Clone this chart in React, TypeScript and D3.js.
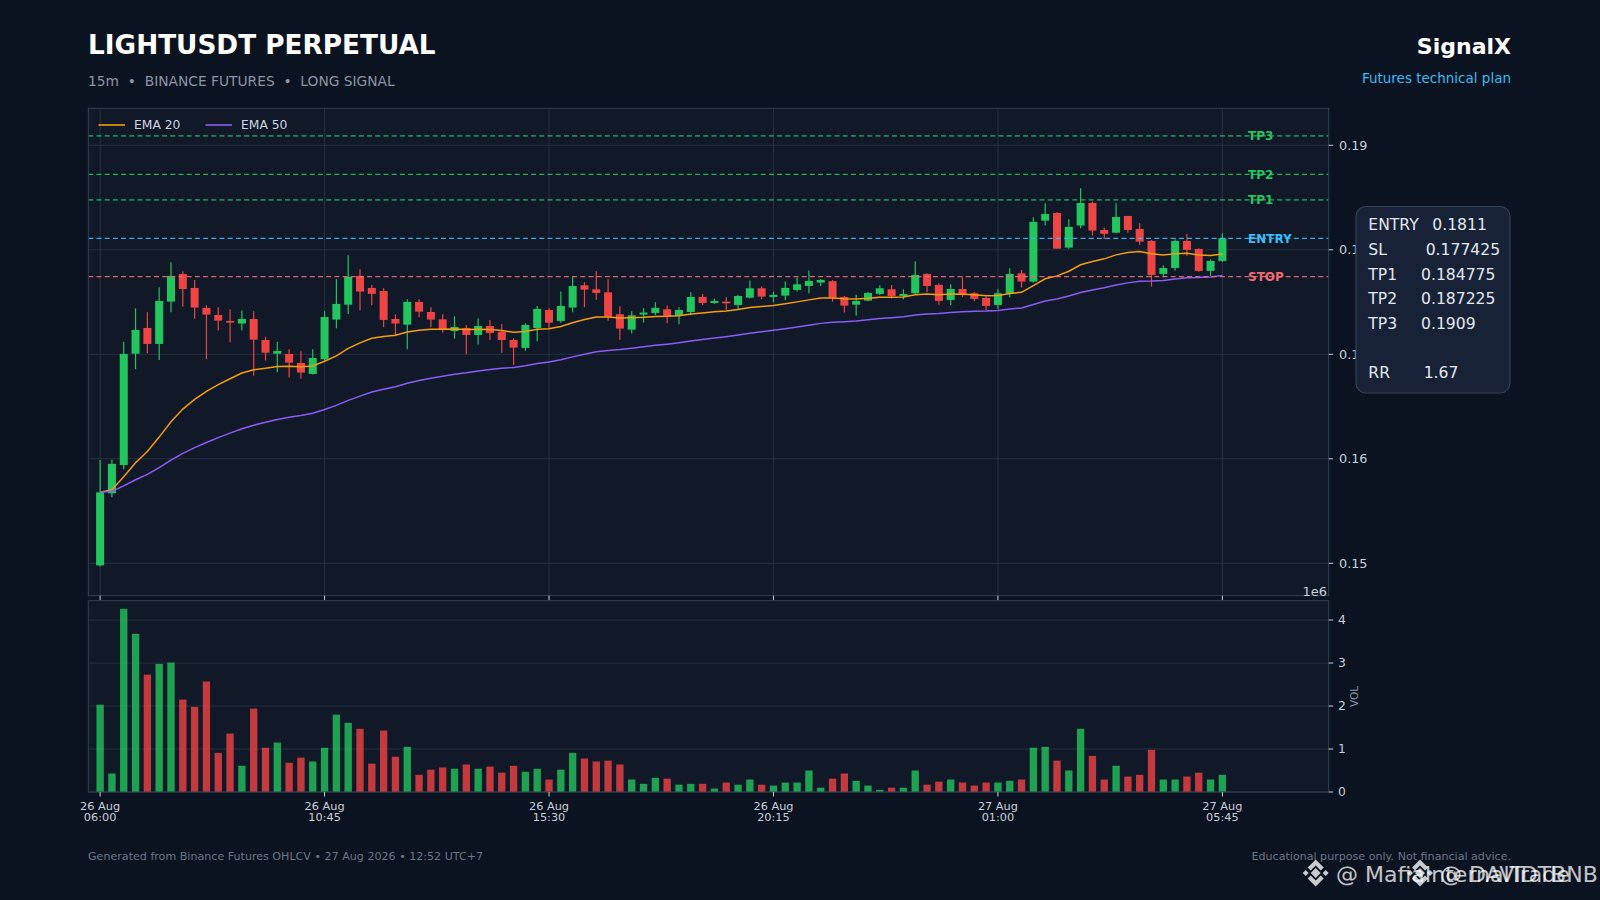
import React from "react";
import * as d3 from "d3";

// ---- data ----
const openP = [
  0.1498, 0.1567, 0.15941, 0.17006, 0.17252, 0.17099, 0.17504, 0.17769, 0.17635, 0.17444, 0.17376, 0.17319,
  0.17294, 0.17338, 0.17137, 0.17006, 0.17003, 0.16917, 0.16812, 0.16952, 0.17332, 0.17475, 0.1775, 0.17635,
  0.17606, 0.17338, 0.17284, 0.17501, 0.17405, 0.17335, 0.17223, 0.17252, 0.17185, 0.17271, 0.17214, 0.17137,
  0.17061, 0.17252, 0.17424, 0.17319, 0.17447, 0.1766, 0.17622, 0.17593, 0.17383, 0.17236, 0.1738, 0.17396,
  0.17431, 0.17367, 0.17405, 0.17549, 0.17491, 0.17504, 0.17472, 0.17542, 0.17632, 0.17549, 0.17562, 0.17616,
  0.17654, 0.17686, 0.17699, 0.17549, 0.17475, 0.17514, 0.17578, 0.17622, 0.17558, 0.17584, 0.17769, 0.17664,
  0.1752, 0.17625, 0.17584, 0.17539, 0.17472, 0.17584, 0.17775, 0.17696, 0.18279, 0.18353, 0.18021, 0.18232,
  0.18448, 0.1819, 0.18164, 0.18324, 0.182, 0.18085, 0.17769, 0.17826, 0.18085, 0.18008, 0.17798, 0.17893,
];
const highP = [
  0.15989, 0.1599, 0.17121, 0.1744, 0.17402, 0.17641, 0.17881, 0.17794, 0.17712, 0.17469, 0.1745, 0.17431,
  0.17418, 0.17412, 0.17169, 0.17121, 0.17048, 0.17029, 0.17048, 0.17412, 0.17721, 0.17948, 0.17814, 0.17664,
  0.17632, 0.17383, 0.17526, 0.17526, 0.1745, 0.17383, 0.17364, 0.17281, 0.17345, 0.17329, 0.1729, 0.17153,
  0.17297, 0.17463, 0.1744, 0.176, 0.17747, 0.17689, 0.17794, 0.17718, 0.1746, 0.17412, 0.1744, 0.17498,
  0.17469, 0.1745, 0.17593, 0.17578, 0.17533, 0.17546, 0.17568, 0.17705, 0.17648, 0.176, 0.17696, 0.17734,
  0.17801, 0.17718, 0.17712, 0.17558, 0.17571, 0.17597, 0.17661, 0.17664, 0.17622, 0.1789, 0.17775, 0.1768,
  0.1767, 0.17737, 0.17597, 0.17552, 0.17622, 0.17823, 0.17807, 0.18311, 0.18445, 0.18359, 0.18292, 0.18589,
  0.18461, 0.18212, 0.18445, 0.18324, 0.18254, 0.18094, 0.17852, 0.18101, 0.18152, 0.18015, 0.17909, 0.18158,
];
const lowP = [
  0.1497, 0.15632, 0.159, 0.16857, 0.1701, 0.16946, 0.17402, 0.17456, 0.17341, 0.16952, 0.17227, 0.17115,
  0.17227, 0.16796, 0.1694, 0.16828, 0.16777, 0.16767, 0.16806, 0.1694, 0.17249, 0.17386, 0.17418, 0.17469,
  0.17259, 0.17172, 0.17048, 0.17354, 0.17259, 0.17207, 0.1715, 0.17, 0.17093, 0.17137, 0.17016, 0.16898,
  0.17035, 0.17125, 0.17249, 0.17303, 0.17402, 0.1745, 0.17523, 0.17322, 0.1714, 0.17198, 0.17303, 0.17377,
  0.17297, 0.17287, 0.17373, 0.17472, 0.17482, 0.17424, 0.17421, 0.17533, 0.17526, 0.17498, 0.17517, 0.176,
  0.17584, 0.17654, 0.17504, 0.17399, 0.1737, 0.17507, 0.17568, 0.17533, 0.17526, 0.17578, 0.17593, 0.17475,
  0.17469, 0.17546, 0.17507, 0.17424, 0.17434, 0.17546, 0.17641, 0.17686, 0.18235, 0.18011, 0.18011, 0.18206,
  0.18136, 0.18104, 0.18158, 0.18164, 0.18046, 0.17648, 0.17737, 0.17801, 0.17944, 0.17791, 0.1775, 0.17884,
];
const closeP = [
  0.15679, 0.15951, 0.17003, 0.17233, 0.17099, 0.17511, 0.1775, 0.17625, 0.17447, 0.1738, 0.17322, 0.17303,
  0.17338, 0.1714, 0.17016, 0.17032, 0.1692, 0.16825, 0.16965, 0.17357, 0.17482, 0.1774, 0.176, 0.17578,
  0.17329, 0.17294, 0.17501, 0.17408, 0.17332, 0.17233, 0.17262, 0.17185, 0.17271, 0.17204, 0.17137, 0.17064,
  0.17281, 0.17434, 0.17303, 0.17463, 0.17654, 0.17619, 0.17587, 0.17361, 0.17246, 0.17373, 0.17399, 0.17444,
  0.17367, 0.17424, 0.17549, 0.17491, 0.1751, 0.17488, 0.17558, 0.17632, 0.17552, 0.17568, 0.17635, 0.1767,
  0.17702, 0.17712, 0.17542, 0.17466, 0.1751, 0.17587, 0.17632, 0.17558, 0.17578, 0.17759, 0.17654, 0.17511,
  0.17625, 0.17568, 0.1753, 0.17463, 0.17584, 0.17769, 0.17696, 0.18267, 0.18343, 0.18011, 0.18219, 0.18448,
  0.18184, 0.18152, 0.18314, 0.1819, 0.18078, 0.17759, 0.17826, 0.18085, 0.17999, 0.17798, 0.17893, 0.1811,
];
// volume in millions (axis offset 1e6)
const volumeM = [
  2.03, 0.43, 4.26, 3.68, 2.73, 2.98, 3.01, 2.15, 1.98, 2.57, 0.91, 1.36,
  0.61, 1.94, 1.03, 1.15, 0.68, 0.8, 0.71, 1.03, 1.8, 1.61, 1.47, 0.66,
  1.43, 0.82, 1.05, 0.4, 0.52, 0.57, 0.54, 0.64, 0.54, 0.59, 0.45, 0.61,
  0.47, 0.54, 0.29, 0.52, 0.91, 0.78, 0.71, 0.73, 0.64, 0.29, 0.19, 0.33,
  0.31, 0.17, 0.19, 0.19, 0.08, 0.22, 0.17, 0.29, 0.17, 0.15, 0.22, 0.22,
  0.5, 0.1, 0.31, 0.43, 0.26, 0.15, 0.05, 0.1, 0.1, 0.5, 0.17, 0.24,
  0.29, 0.22, 0.15, 0.22, 0.22, 0.26, 0.29, 1.03, 1.05, 0.73, 0.5, 1.47,
  0.84, 0.29, 0.61, 0.36, 0.4, 0.98, 0.29, 0.29, 0.36, 0.45, 0.29, 0.4,
];
const xTickIndex = [0, 19, 38, 57, 76, 95];
const xTickDay = ["26 Aug", "26 Aug", "26 Aug", "26 Aug", "27 Aug", "27 Aug"];
const xTickTime = ["06:00", "10:45", "15:30", "20:15", "01:00", "05:45"];
const priceTicks = [0.15, 0.16, 0.17, 0.18, 0.19];
const volTicks = [0, 1, 2, 3, 4];
const levelNames = ["TP3", "TP2", "TP1", "ENTRY", "STOP"];
const levelValues = [0.1909, 0.187225, 0.184775, 0.1811, 0.177425];
const levelColors = ["#22c55e", "#22c55e", "#22c55e", "#38bdf8", "#f16b73"];
const planLabels = ["ENTRY", "SL", "TP1", "TP2", "TP3", "RR"];
const planValues = ["0.1811", "0.177425", "0.184775", "0.187225", "0.1909", "1.67"];
const emaSpans = [20, 50];
const emaNames = ["EMA 20", "EMA 50"];
const emaColors = ["#f59e0b", "#8b5cf6"];

// EMA of the closes (pandas ewm, adjust=False)
function ema(values: number[], span: number): number[] {
  const k = 2 / (span + 1);
  const out: number[] = [];
  values.forEach((v, i) => {
    out.push(i === 0 ? v : out[i - 1] + k * (v - out[i - 1]));
  });
  return out;
}

const FONT = "'DejaVu Sans', Verdana, sans-serif";
const BG = "#0b1220";
const PANEL = "#111827";
const SPINE = "#334155";
const GRID = "#253142";
const TICK = "#c8d0dc";
const GREEN = "#22c55e";
const RED = "#ef4444";

export default function App() {
  const PL = 88.3, PR = 1328.7, PT = 108.3, PB = 595.7;
  const VT = 600.7, VB = 792;
  const n = closeP.length;
  const x = d3.scaleLinear().domain([-1, 104]).range([PL, PR]);
  const y = d3.scaleLinear().domain([0.1469, 0.19354]).range([PB, PT]);
  const vy = d3.scaleLinear().domain([0, 4.45]).range([VB, VT]);
  const step = x(1) - x(0);
  const bodyW = step * 0.68;
  const barW = step * 0.62;
  const idx = d3.range(n);
  const emas = emaSpans.map((s) => ema(closeP, s));
  const line = d3
    .line<number>()
    .x((_, i) => x(i))
    .y((d) => y(d));

  return (
    <svg
      width={1600}
      height={900}
      style={{ position: "absolute", left: 0, top: 0, display: "block", background: BG }}
      fontFamily={FONT}
    >
      <rect x={0} y={0} width={1600} height={900} fill={BG} />
      {/* header */}
      <text x={88} y={53.5} fill="#ffffff" fontSize={26.3} fontWeight="bold">
        LIGHTUSDT PERPETUAL
      </text>
      <text x={88} y={86} fill="#8b95a5" fontSize={13.8} xmlSpace="preserve">
        {"15m  •  BINANCE FUTURES  •  LONG SIGNAL"}
      </text>
      <text x={1511} y={54} fill="#ffffff" fontSize={22} fontWeight="bold" textAnchor="end">
        SignalX
      </text>
      <text x={1511} y={82.5} fill="#38bdf8" fontSize={13.5} textAnchor="end">
        Futures technical plan
      </text>

      {/* price panel */}
      <rect x={PL} y={PT} width={PR - PL} height={PB - PT} fill={PANEL} />
      {priceTicks.map((t) => (
        <line key={"pg" + t} x1={PL} x2={PR} y1={y(t)} y2={y(t)} stroke={GRID} strokeWidth={1} />
      ))}
      {xTickIndex.map((t) => (
        <line key={"xg" + t} x1={x(t)} x2={x(t)} y1={PT} y2={PB} stroke={GRID} strokeWidth={1} />
      ))}
      {/* candles */}
      {idx.map((i) => {
        const up = closeP[i] >= openP[i];
        const col = up ? GREEN : RED;
        const top = y(Math.max(openP[i], closeP[i]));
        const bot = y(Math.min(openP[i], closeP[i]));
        return (
          <g key={"c" + i}>
            <line x1={x(i)} x2={x(i)} y1={y(highP[i])} y2={y(lowP[i])} stroke={col} strokeWidth={1.2} />
            <rect x={x(i) - bodyW / 2} y={top} width={bodyW} height={Math.max(bot - top, 1.6)} fill={col} />
          </g>
        );
      })}
      {/* EMAs */}
      {emas.map((e, k) => (
        <path key={"ema" + k} d={line(e) || ""} fill="none" stroke={emaColors[k]} strokeWidth={1.5} />
      ))}
      {/* levels */}
      {levelValues.map((v, k) => (
        <g key={"lv" + k}>
          <text
            x={1248}
            y={y(v)}
            dy="0.36em"
            fill={levelColors[k]}
            fontSize={12}
            fontWeight="bold"
          >
            {levelNames[k]}
          </text>
          <line
            x1={PL}
            x2={PR}
            y1={y(v)}
            y2={y(v)}
            stroke={levelColors[k]}
            strokeWidth={1.3}
            strokeDasharray="5,3.2"
            opacity={0.9}
          />
        </g>
      ))}
      {/* legend */}
      {emaNames.map((nm, k) => (
        <g key={"lg" + k}>
          <line x1={98.5 + k * 107} x2={125 + k * 107} y1={125} y2={125} stroke={emaColors[k]} strokeWidth={1.6} />
          <text x={134 + k * 107} y={129.4} fill="#d0d6e0" fontSize={12.3}>
            {nm}
          </text>
        </g>
      ))}
      <rect x={PL} y={PT} width={PR - PL} height={PB - PT} fill="none" stroke={SPINE} strokeWidth={1} />
      {/* price axis */}
      {priceTicks.map((t) => (
        <g key={"pt" + t}>
          <line x1={PR} x2={PR + 4.5} y1={y(t)} y2={y(t)} stroke={TICK} strokeWidth={1} />
          <text x={1339} y={y(t)} dy="0.36em" fill={TICK} fontSize={12.8}>
            {d3.format(".2f")(t)}
          </text>
        </g>
      ))}
      {xTickIndex.map((t) => (
        <line key={"pxt" + t} x1={x(t)} x2={x(t)} y1={PB} y2={PB + 4.5} stroke={TICK} strokeWidth={1} />
      ))}
      <text x={1327} y={596} fill={TICK} fontSize={13} textAnchor="end">
        1e6
      </text>

      {/* volume panel */}
      <rect x={PL} y={VT} width={PR - PL} height={VB - VT} fill={PANEL} />
      {volTicks.map((t) => (
        <line key={"vg" + t} x1={PL} x2={PR} y1={vy(t)} y2={vy(t)} stroke={GRID} strokeWidth={1} />
      ))}
      {idx.map((i) => (
        <rect
          key={"v" + i}
          x={x(i) - barW / 2}
          y={vy(volumeM[i])}
          width={barW}
          height={VB - vy(volumeM[i])}
          fill={closeP[i] >= openP[i] ? GREEN : RED}
          fillOpacity={0.8}
        />
      ))}
      <rect x={PL} y={VT} width={PR - PL} height={VB - VT} fill="none" stroke={SPINE} strokeWidth={1} />
      {volTicks.map((t) => (
        <g key={"vt" + t}>
          <line x1={PR} x2={PR + 4.5} y1={vy(t)} y2={vy(t)} stroke={TICK} strokeWidth={1} />
          <text x={1338} y={vy(t)} dy="0.36em" fill={TICK} fontSize={12.3}>
            {t}
          </text>
        </g>
      ))}
      <text
        transform={`translate(1354,${(VT + VB) / 2}) rotate(-90)`}
        textAnchor="middle"
        dy="0.36em"
        fill="#8b95a5"
        fontSize={10.5}
      >
        VOL
      </text>
      {xTickIndex.map((t, k) => (
        <g key={"vxt" + t}>
          <line x1={x(t)} x2={x(t)} y1={VB} y2={VB + 4.5} stroke={TICK} strokeWidth={1} />
          <text x={x(t)} y={810} fill={TICK} fontSize={11.3} textAnchor="middle">
            {xTickDay[k]}
          </text>
          <text x={x(t)} y={821} fill={TICK} fontSize={11.3} textAnchor="middle">
            {xTickTime[k]}
          </text>
        </g>
      ))}

      {/* plan box */}
      <rect x={1356} y={206.5} width={154} height={186.5} rx={10} ry={10} fill="#172236" stroke="#334155" strokeWidth={1.2} />
      {planLabels.map((lb, k) => {
        const yy = k < 5 ? 230 + k * 24.8 : 378.3;
        const vx = [1432.3, 1425.7, 1421, 1421, 1421, 1423.7][k];
        return (
          <g key={"pl" + k}>
            <text x={1368.3} y={yy} fill="#e2e8f0" fontSize={15.6}>
              {lb}
            </text>
            <text x={vx} y={yy} fill="#e2e8f0" fontSize={15.6}>
              {planValues[k]}
            </text>
          </g>
        );
      })}

      {/* footer */}
      <text x={88} y={860} fill="#6b7685" fontSize={11.1}>
        Generated from Binance Futures OHLCV • 27 Aug 2026 • 12:52 UTC+7
      </text>
      <text x={1511} y={860} fill="#6b7685" fontSize={11.1} textAnchor="end">
        Educational purpose only. Not financial advice.
      </text>

      {/* watermark */}
      {[1315.7, 1420].map((cx, k) => (
        <g key={"wm" + k} fill="#ffffff" opacity={0.78}>
          <path d={`M${cx},${873 - 5} l5,5 l-5,5 l-5,-5 z`} />
          <path d={`M${cx},${873 - 13.5} l8,8 l-3,3 l-5,-5 l-5,5 l-3,-3 z`} />
          <path d={`M${cx},${873 + 13.5} l8,-8 l-3,-3 l-5,5 l-5,-5 l-3,3 z`} />
          <path d={`M${cx - 13},${873} l3,-3 l3,3 l-3,3 z`} />
          <path d={`M${cx + 13},${873} l-3,-3 l-3,3 l3,3 z`} />
        </g>
      ))}
      <text x={1336} y={881.5} fill="#ffffff" opacity={0.75} fontSize={22}>
        @ MafiaInternalTrade
      </text>
      <text x={1440} y={881.5} fill="#ffffff" opacity={0.75} fontSize={22}>
        @ DAVIDTBNB
      </text>
    </svg>
  );
}
